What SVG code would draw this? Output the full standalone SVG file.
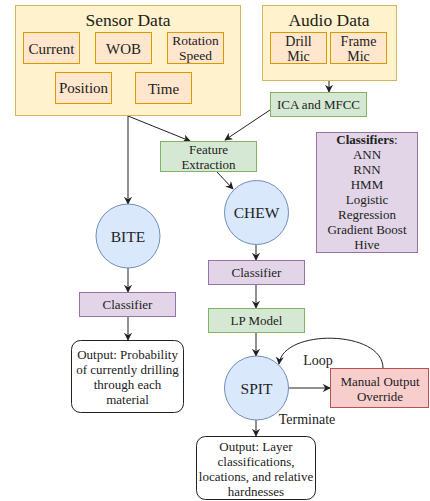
<svg xmlns="http://www.w3.org/2000/svg" width="430" height="501" viewBox="0 0 430 501">
<defs>
<marker id="arr" viewBox="0 0 10 10" refX="9" refY="5" markerWidth="8" markerHeight="8" markerUnits="userSpaceOnUse" orient="auto">
<path d="M0,0 L10,5 L0,10 L3,5 Z" fill="#222"/>
</marker>
</defs>
<style>
text{font-family:'Liberation Serif','Times New Roman',serif;fill:#222;text-anchor:middle}
.yel{fill:#fff2cc;stroke:#d6b656;stroke-width:1}
.org{fill:#ffe6cc;stroke:#d79b00;stroke-width:1}
.grn{fill:#d5e8d4;stroke:#82b366;stroke-width:1}
.pur{fill:#e1d5e7;stroke:#9673a6;stroke-width:1}
.blu{fill:#dae8fc;stroke:#6c8ebf;stroke-width:1}
.red{fill:#f8cecc;stroke:#b85450;stroke-width:1}
.wht{fill:#ffffff;stroke:#222;stroke-width:1}
.c{fill:none;stroke:#222;stroke-width:1;marker-end:url(#arr)}
.t13{font-size:13px}
.t13b{font-size:13.5px}
.t14{font-size:14px}
.t15{font-size:15px}
.t155{font-size:15.5px}
.t175{font-size:17.5px}
</style>
<g id="connectors">
<path class="c" d="M128,116 L128,204"/>
<path class="c" d="M128,116 L190,141"/>
<path class="c" d="M270,110 L225,140"/>
<path class="c" d="M329,81 L329,92"/>
<path class="c" d="M217,172 L233,189"/>
<path class="c" d="M256,245 L256,260"/>
<path class="c" d="M256,284 L256,308"/>
<path class="c" d="M256,332 L256,356"/>
<path class="c" d="M128,268 L128,292"/>
<path class="c" d="M128,317 L128,340"/>
<path class="c" d="M289,388 L330,388"/>
<path class="c" d="M256,420 L256,436"/>
<path class="c" d="M383,368 C383,330 283,328 279,364"/>
<text class="t14" x="318" y="365">Loop</text>
<text class="t14" x="307" y="424">Terminate</text>
</g>
<g id="sensor-data">
<rect class="yel" x="15.5" y="5.5" width="225" height="110"/>
<text class="t175" x="128" y="25.5">Sensor Data</text>
</g>
<g id="current"><rect class="org" x="23.5" y="32.5" width="56" height="31"/><text class="t15" x="51.5" y="53.5">Current</text></g>
<g id="wob"><rect class="org" x="95.5" y="32.5" width="56" height="31"/><text class="t15" x="123.5" y="53.5">WOB</text></g>
<g id="rotation-speed"><rect class="org" x="167.5" y="32.5" width="56" height="31"/><text class="t13b" x="195.5" y="45">Rotation</text><text class="t13b" x="195.5" y="59.5">Speed</text></g>
<g id="position"><rect class="org" x="55.5" y="72.5" width="56" height="31"/><text class="t15" x="83.5" y="93">Position</text></g>
<g id="time"><rect class="org" x="135.5" y="72.5" width="56" height="31"/><text class="t15" x="163.5" y="94">Time</text></g>
<g id="audio-data">
<rect class="yel" x="262.5" y="5.5" width="134" height="75"/>
<text class="t175" x="329" y="25.5">Audio Data</text>
</g>
<g id="drill-mic"><rect class="org" x="270.5" y="32.5" width="56" height="31"/><text class="t14" x="298.5" y="45.5">Drill</text><text class="t14" x="298.5" y="61">Mic</text></g>
<g id="frame-mic"><rect class="org" x="330.5" y="32.5" width="56" height="31"/><text class="t14" x="358.5" y="45.5">Frame</text><text class="t14" x="358.5" y="61">Mic</text></g>
<g id="ica-mfcc"><rect class="grn" x="270.5" y="92.5" width="96" height="24"/><text class="t13" x="318.5" y="109">ICA and MFCC</text></g>
<g id="feature-extraction"><rect class="grn" x="160.5" y="141.5" width="96" height="30"/><text class="t13" x="208.5" y="154">Feature</text><text class="t13" x="208.5" y="168.5">Extraction</text></g>
<g id="classifiers-list">
<rect class="pur" x="316.5" y="132.5" width="101" height="120"/>
<text class="t13" x="367" y="143.5"><tspan font-weight="bold">Classifiers</tspan>:</text>
<text class="t13" x="367" y="158.5">ANN</text>
<text class="t13" x="367" y="173.5">RNN</text>
<text class="t13" x="367" y="188.5">HMM</text>
<text class="t13" x="367" y="203.5">Logistic</text>
<text class="t13" x="367" y="218.5">Regression</text>
<text class="t13" x="367" y="233.5">Gradient Boost</text>
<text class="t13" x="367" y="248.5">Hive</text>
</g>
<g id="chew"><circle class="blu" cx="256.5" cy="212.5" r="32"/><text class="t155" x="256.5" y="218">CHEW</text></g>
<g id="bite"><circle class="blu" cx="128" cy="236" r="32"/><text class="t155" x="128" y="242">BITE</text></g>
<g id="chew-classifier"><rect class="pur" x="208.5" y="260.5" width="96" height="24"/><text class="t13" x="256.5" y="277">Classifier</text></g>
<g id="lp-model"><rect class="grn" x="208.5" y="308.5" width="96" height="24"/><text class="t13" x="256.5" y="325">LP Model</text></g>
<g id="bite-classifier"><rect class="pur" x="79.5" y="292.5" width="96" height="24"/><text class="t13" x="127.5" y="309">Classifier</text></g>
<g id="bite-output"><rect class="wht" x="71.5" y="340.5" width="112" height="72" rx="9"/>
<text class="t13" x="127.5" y="359">Output: Probability</text>
<text class="t13" x="127.5" y="374">of currently drilling</text>
<text class="t13" x="127.5" y="389">through each</text>
<text class="t13" x="127.5" y="404">material</text>
</g>
<g id="spit"><circle class="blu" cx="256.5" cy="388" r="32"/><text class="t155" x="256.5" y="394">SPIT</text></g>
<g id="manual-override"><rect class="red" x="330.5" y="368.5" width="98" height="39"/><text class="t13" x="380" y="386">Manual Output</text><text class="t13" x="380" y="401">Override</text></g>
<g id="spit-output"><rect class="wht" x="196.5" y="436.5" width="119" height="63" rx="9"/>
<text class="t13" x="256" y="450.5">Output: Layer</text>
<text class="t13" x="256" y="465.5">classifications,</text>
<text class="t13" x="256" y="480.5">locations, and relative</text>
<text class="t13" x="256" y="495.5">hardnesses</text>
</g>
</svg>
